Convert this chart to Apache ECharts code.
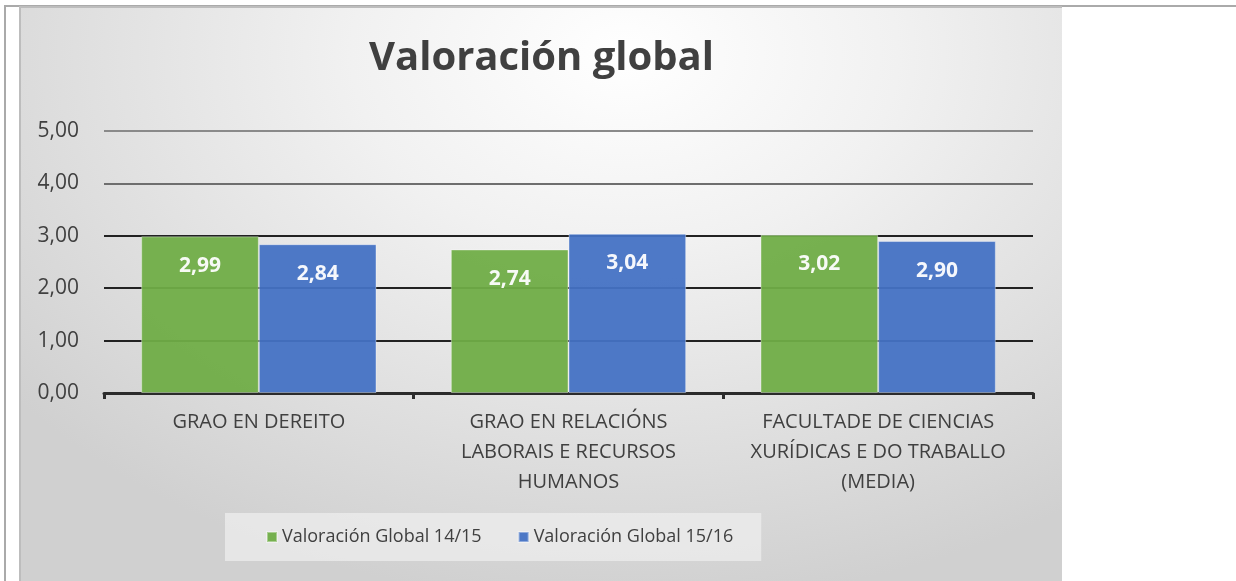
<!DOCTYPE html>
<html>
<head>
<meta charset="utf-8">
<script src="https://cdn.jsdelivr.net/npm/echarts@6/dist/echarts.min.js"></script>
<style>
  html, body { margin: 0; padding: 0; background: #fff; }
  body { width: 1236px; height: 581px; position: relative; overflow: hidden; }
  .frame {
    position: absolute; left: 4px; top: 5px; right: -10px; bottom: -10px;
    border-left: 2px solid #aaa; border-top: 2px solid #aaa;
  }
  .panel {
    position: absolute; left: 19px; top: 6px; width: 1041px; height: 580px;
    border-left: 2px solid #bdbdbd; border-top: 2px solid #bdbdbd;
    background: radial-gradient(ellipse 75% 95% at 58% 8%, #ffffff 0%, #f1f1f1 35%, #d0d0d0 100%);
  }
  #chart { position: absolute; left: 0; top: 0; width: 1041px; height: 575px; }
</style>
</head>
<body>
<div class="frame"></div>
<div class="panel"><div id="chart"></div></div>
<script>
const categories = [
  'GRAO EN DEREITO',
  'GRAO EN RELACIÓNS\nLABORAIS E RECURSOS\nHUMANOS',
  'FACULTADE DE CIENCIAS\nXURÍDICAS E DO TRABALLO\n(MEDIA)'
];
const seriesNames = ['Valoración Global 14/15', 'Valoración Global 15/16'];
const valores1415 = [2.99, 2.74, 3.02];
const valores1516 = [2.84, 3.04, 2.90];
const colors = ['#70AD47', '#4472C4'];

const fmt = v => v.toFixed(2).replace('.', ',');
const textColor = '#404040';
const font = '"Open Sans", "Noto Sans", sans-serif';

const chart = echarts.init(document.getElementById('chart'));

const barSeries = (name, data, color) => ({
  name: name,
  type: 'bar',
  data: data,
  barGap: '0%',
  barCategoryGap: '24%',
  itemStyle: { color: color, opacity: 0.95, borderColor: 'rgba(255,255,255,0.4)', borderWidth: 1 },
  label: {
    show: true,
    position: 'insideTop',
    distance: 19,
    color: '#fff',
    fontFamily: font,
    fontWeight: 'bold',
    fontSize: 21,
    formatter: p => fmt(p.value)
  }
});

chart.setOption({
  backgroundColor: 'transparent',
  animation: false,
  color: colors,
  title: {
    text: 'Valoración global',
    left: 'center',
    top: 26,
    textStyle: { fontFamily: font, fontWeight: 'bold', fontSize: 40, color: textColor }
  },
  legend: {
    left: 204,
    top: 505,
    itemWidth: 10,
    itemHeight: 10,
    itemGap: 36,
    padding: [15, 28, 15, 41],
    backgroundColor: 'rgba(238,238,238,0.75)',
    icon: 'rect',
    textStyle: { fontFamily: font, fontSize: 18, color: textColor },
    data: seriesNames
  },
  grid: { left: 83, right: 29, top: 123, height: 262 },
  xAxis: {
    type: 'category',
    data: categories,
    axisLine: { lineStyle: { color: '#2b2b2b', width: 3 } },
    axisTick: { show: true, length: 6, lineStyle: { color: '#2b2b2b', width: 3 } },
    axisLabel: {
      margin: 14,
      fontFamily: font,
      fontSize: 20,
      lineHeight: 30,
      color: textColor,
      interval: 0
    }
  },
  yAxis: {
    type: 'value',
    min: 0,
    max: 5,
    interval: 1,
    axisLine: { show: false },
    axisTick: { show: false },
    axisLabel: {
      margin: 25,
      fontFamily: font,
      fontSize: 21,
      color: textColor,
      formatter: v => fmt(v)
    },
    splitLine: {
      lineStyle: { width: 2, color: ['#222', '#222', '#222', '#222', '#6e6e6e', '#8a8a8a'] }
    }
  },
  series: [
    barSeries(seriesNames[0], valores1415, colors[0]),
    barSeries(seriesNames[1], valores1516, colors[1])
  ]
});
</script>
</body>
</html>
